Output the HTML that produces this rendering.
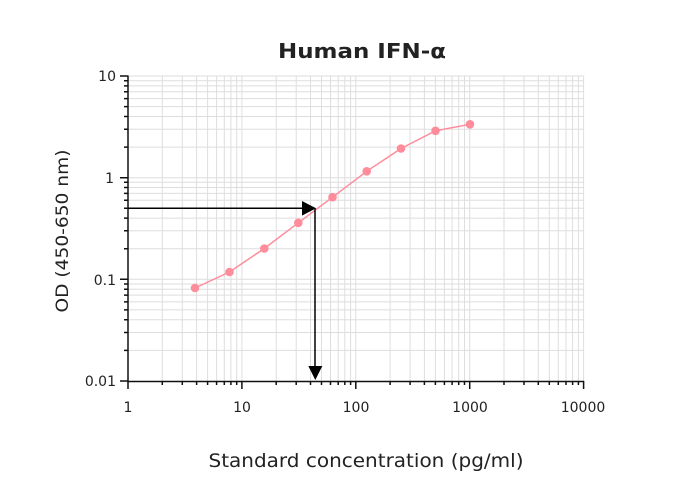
<!DOCTYPE html>
<html><head><meta charset="utf-8"><style>
html,body{margin:0;padding:0;background:#fff;}
svg{display:block;}
text{font-family:"DejaVu Sans","Liberation Sans",sans-serif;fill:#222;}
</style></head><body>
<svg width="677" height="500" viewBox="0 0 677 500" xmlns="http://www.w3.org/2000/svg">
<rect width="677" height="500" fill="#fff"/>
<!-- grid -->
<g stroke="#dedede" stroke-width="1" fill="none">
<path d="M162.3 76V381M182.3 76V381M196.6 76V381M207.6 76V381M216.6 76V381M224.3 76V381M230.9 76V381M236.7 76V381
M241.9 76V381M276.2 76V381M296.2 76V381M310.5 76V381M321.5 76V381M330.5 76V381M338.2 76V381M344.8 76V381M350.6 76V381
M355.8 76V381M390.1 76V381M410.1 76V381M424.4 76V381M435.4 76V381M444.4 76V381M452.1 76V381M458.7 76V381M464.5 76V381
M469.7 76V381M504 76V381M524 76V381M538.3 76V381M549.3 76V381M558.3 76V381M566 76V381M572.6 76V381M578.4 76V381M583.6 76V381"/>
<path d="M128 350.4H583.6M128 332.5H583.6M128 319.8H583.6M128 309.9H583.6M128 301.9H583.6M128 295.1H583.6M128 289.2H583.6M128 284H583.6
M128 279.3H583.6M128 248.7H583.6M128 230.8H583.6M128 218.1H583.6M128 208.3H583.6M128 200.2H583.6M128 193.4H583.6M128 187.5H583.6M128 182.3H583.6
M128 177.7H583.6M128 147.1H583.6M128 129.2H583.6M128 116.5H583.6M128 106.6H583.6M128 98.6H583.6M128 91.8H583.6M128 85.9H583.6M128 80.7H583.6M128 76H583.6"/>
</g>
<!-- axes -->
<g stroke="#111" stroke-width="1.5" fill="none">
<path d="M128 75.5V381.5H584"/>
<!-- y ticks -->
<path d="M120 76H128M120 177.7H128M120 279.3H128M120 381H128"/>
<path d="M124 350.4H128M124 332.5H128M124 319.8H128M124 309.9H128M124 301.9H128M124 295.1H128M124 289.2H128M124 284H128
M124 248.7H128M124 230.8H128M124 218.1H128M124 208.3H128M124 200.2H128M124 193.4H128M124 187.5H128M124 182.3H128
M124 147.1H128M124 129.2H128M124 116.5H128M124 106.6H128M124 98.6H128M124 91.8H128M124 85.9H128M124 80.7H128"/>
<!-- x ticks -->
<path d="M128 381V389M241.9 381V389M355.8 381V389M469.7 381V389M583.6 381V389"/>
<path d="M162.3 381V385M182.3 381V385M196.6 381V385M207.6 381V385M216.6 381V385M224.3 381V385M230.9 381V385M236.7 381V385
M276.2 381V385M296.2 381V385M310.5 381V385M321.5 381V385M330.5 381V385M338.2 381V385M344.8 381V385M350.6 381V385
M390.1 381V385M410.1 381V385M424.4 381V385M435.4 381V385M444.4 381V385M452.1 381V385M458.7 381V385M464.5 381V385
M504 381V385M524 381V385M538.3 381V385M549.3 381V385M558.3 381V385M566 381V385M572.6 381V385M578.4 381V385"/>
</g>
<!-- tick labels -->
<g font-size="14" text-anchor="end" fill="#222">
<text x="116" y="81">10</text>
<text x="114" y="183">1</text>
<text x="116" y="285">0.1</text>
<text x="116" y="386">0.01</text>
</g>
<g font-size="14" text-anchor="middle" fill="#222">
<text x="128" y="412">1</text>
<text x="242" y="412">10</text>
<text x="356" y="412">100</text>
<text x="470" y="412">1000</text>
<text x="583" y="412">10000</text>
</g>
<!-- data -->
<polyline fill="none" stroke="#ff8c9b" stroke-width="1.5" points="195,288 229.5,272 264.3,248.5 298.3,222.8 332.5,197.2 366.7,171.3 401,148.5 435.5,130.8 470,124.3"/>
<g fill="#ff8c9b">
<circle cx="195" cy="288" r="4.3"/>
<circle cx="229.5" cy="272" r="4.3"/>
<circle cx="264.3" cy="248.5" r="4.3"/>
<circle cx="298.3" cy="222.8" r="4.3"/>
<circle cx="332.5" cy="197.2" r="4.3"/>
<circle cx="366.7" cy="171.3" r="4.3"/>
<circle cx="401" cy="148.5" r="4.3"/>
<circle cx="435.5" cy="130.8" r="4.3"/>
<circle cx="470" cy="124.3" r="4.3"/>
</g>
<!-- arrows -->
<g stroke="#000" stroke-width="1.5" fill="none">
<path d="M128 208.3H304M315 208.3V367"/>
</g>
<polygon points="302,201 316,208.3 302,215.6" fill="#000"/>
<polygon points="308.3,366 322.3,366 315.3,380" fill="#000"/>
<!-- titles -->
<text x="362" y="58" font-size="20" font-weight="bold" text-anchor="middle" textLength="168" lengthAdjust="spacingAndGlyphs" fill="#222">Human IFN-α</text>
<text x="366" y="467" font-size="19" text-anchor="middle" textLength="315" lengthAdjust="spacingAndGlyphs" fill="#222">Standard concentration (pg/ml)</text>
<text transform="translate(68,231) rotate(-90)" font-size="17" text-anchor="middle" textLength="163" lengthAdjust="spacingAndGlyphs" fill="#222">OD (450-650 nm)</text>
</svg>
</body></html>
